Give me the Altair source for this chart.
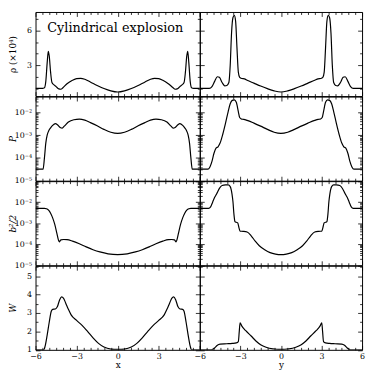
import altair as alt
import pandas as pd

# ---------------- data ----------------
rho_x_c = [-6, -5.5, -5.35, -5.25, -5.15, -5.07, -5.0, -4.9, -4.8, -4.65, -4.5, -4.3, -4.15, -4.0,
           -3.7, -3.3, -3.0, -2.7, -2.4, -2.0, -1.5, -1.0, -0.5, 0, 0.5, 1.0, 1.5, 2.0, 2.4, 2.7,
           3.0, 3.3, 3.7, 4.05, 4.2, 4.35, 4.55, 4.7, 4.85, 4.95, 5.05, 5.12, 5.2, 5.3, 5.4, 5.55, 6]
rho_x_v = [1.0, 1.0, 1.05, 1.6, 3.2, 4.2, 3.8, 2.4, 1.5, 1.3, 1.15, 0.95, 0.92, 1.05,
           1.4, 1.7, 1.84, 1.86, 1.78, 1.55, 1.25, 0.98, 0.78, 0.68, 0.78, 0.98, 1.25, 1.55, 1.78, 1.86,
           1.84, 1.7, 1.4, 1.05, 0.92, 0.95, 1.15, 1.3, 1.5, 2.4, 3.8, 4.2, 3.2, 1.6, 1.05, 1.0, 1.0]

rho_y_c = [-6, -5.3, -5.1, -4.9, -4.7, -4.55, -4.35, -4.15, -4.0, -3.85, -3.75, -3.65, -3.55, -3.45,
           -3.35, -3.25, -3.15, -3.05, -2.9, -2.7, -2.5, -2.0, -1.5, -1.0, -0.5, 0,
           0.5, 1.0, 1.5, 2.0, 2.5, 2.75, 2.95, 3.1, 3.2, 3.3, 3.4, 3.5, 3.6, 3.7, 3.8, 3.9,
           4.05, 4.2, 4.4, 4.6, 4.75, 4.95, 5.15, 5.35, 6]
rho_y_v = [1.0, 1.0, 1.15, 1.6, 2.0, 1.95, 1.5, 1.22, 1.25, 1.5, 3.0, 5.8, 7.1, 7.3,
           6.8, 4.5, 2.4, 1.95, 1.85, 1.82, 1.7, 1.45, 1.2, 0.97, 0.78, 0.68,
           0.78, 0.97, 1.2, 1.45, 1.7, 1.82, 1.85, 1.95, 2.4, 4.5, 6.8, 7.3, 7.1, 5.8, 3.0, 1.5,
           1.25, 1.22, 1.5, 1.95, 2.0, 1.6, 1.15, 1.0, 1.0]

p_x_c = [-6, -5.45, -5.35, -5.25, -5.15, -5.05, -4.9, -4.75, -4.55, -4.4, -4.2, -4.05, -3.9, -3.6,
         -3.2, -2.8, -2.4, -2.0, -1.5, -1.0, -0.5, 0, 0.5, 1.0, 1.5, 2.0, 2.4, 2.8, 3.2, 3.6,
         3.9, 4.05, 4.2, 4.4, 4.55, 4.75, 4.9, 5.05, 5.15, 5.25, 5.35, 5.45, 6]
p_x_v = [3.2e-5, 3.2e-5, 1.0e-4, 4.5e-4, 1.0e-3, 1.5e-3, 2.1e-3, 2.7e-3, 3.2e-3, 2.9e-3, 2.2e-3, 2.05e-3, 2.5e-3, 3.8e-3,
         4.8e-3, 5.1e-3, 4.6e-3, 3.6e-3, 2.6e-3, 1.8e-3, 1.35e-3, 1.2e-3, 1.35e-3, 1.8e-3, 2.6e-3, 3.6e-3, 4.6e-3, 5.1e-3, 4.8e-3, 3.8e-3,
         2.5e-3, 2.05e-3, 2.2e-3, 2.9e-3, 3.2e-3, 2.7e-3, 2.1e-3, 1.5e-3, 1.0e-3, 4.5e-4, 1.0e-4, 3.2e-5, 3.2e-5]

p_y_c = [-6, -5.4, -5.25, -5.1, -4.95, -4.8, -4.65, -4.5, -4.3, -4.1, -3.9, -3.75, -3.6, -3.45,
         -3.3, -3.15, -3.05, -2.9, -2.75, -2.5, -2.0, -1.5, -1.0, -0.5, 0,
         0.5, 1.0, 1.5, 2.0, 2.5, 2.75, 2.9, 3.05, 3.15, 3.3, 3.45, 3.6, 3.75, 3.9, 4.1, 4.3,
         4.5, 4.65, 4.8, 4.95, 5.1, 5.25, 5.4, 6]
p_y_v = [3.2e-5, 3.2e-5, 4e-5, 7e-5, 1.6e-4, 2.7e-4, 3.1e-4, 4.5e-4, 1.1e-3, 3.3e-3, 1.1e-2, 2.4e-2, 3.4e-2, 3.6e-2,
         2.8e-2, 1.1e-2, 6e-3, 5.1e-3, 5e-3, 4.5e-3, 3.4e-3, 2.5e-3, 1.8e-3, 1.35e-3, 1.2e-3,
         1.35e-3, 1.8e-3, 2.5e-3, 3.4e-3, 4.5e-3, 5e-3, 5.1e-3, 6e-3, 1.1e-2, 2.8e-2, 3.6e-2, 3.4e-2, 2.4e-2, 1.1e-2, 3.3e-3, 1.1e-3,
         4.5e-4, 3.1e-4, 2.7e-4, 1.6e-4, 7e-5, 4e-5, 3.2e-5, 3.2e-5]

b_x_c = [-6, -5.35, -5.2, -5.05, -4.9, -4.75, -4.6, -4.45, -4.33, -4.27, -4.15, -3.95, -3.7, -3.3,
         -2.8, -2.3, -1.8, -1.3, -0.7, 0, 0.7, 1.3, 1.8, 2.3, 2.8, 3.3, 3.7, 3.95,
         4.15, 4.27, 4.33, 4.45, 4.6, 4.75, 4.9, 5.05, 5.2, 5.35, 6]
b_x_v = [5.1e-3, 5.1e-3, 4.9e-3, 4.2e-3, 3.0e-3, 1.8e-3, 9e-4, 3.5e-4, 1.6e-4, 1.3e-4, 1.6e-4, 1.68e-4, 1.65e-4, 1.4e-4,
         1.05e-4, 7.5e-5, 5.5e-5, 4.3e-5, 3.5e-5, 3.2e-5, 3.5e-5, 4.3e-5, 5.5e-5, 7.5e-5, 1.05e-4, 1.4e-4, 1.65e-4, 1.68e-4,
         1.6e-4, 1.3e-4, 1.6e-4, 3.5e-4, 9e-4, 1.8e-3, 3.0e-3, 4.2e-3, 4.9e-3, 5.1e-3, 5.1e-3]

b_y_c = [-6, -5.35, -5.2, -5.05, -4.9, -4.75, -4.55, -4.35, -4.1, -3.9, -3.75, -3.62, -3.55, -3.47,
         -3.4, -3.3, -3.2, -3.1, -3.02, -2.8, -2.5, -2.2, -1.9, -1.6, -1.2, -0.8, -0.4, 0,
         0.4, 0.8, 1.2, 1.6, 1.9, 2.2, 2.5, 2.8, 3.02, 3.1, 3.2, 3.3, 3.4, 3.47, 3.55, 3.62,
         3.75, 3.9, 4.1, 4.35, 4.55, 4.75, 4.9, 5.05, 5.2, 5.35, 6]
b_y_v = [5.1e-3, 5.1e-3, 6e-3, 1e-2, 1.7e-2, 2.5e-2, 4.5e-2, 6.2e-2, 6.6e-2, 6.6e-2, 5.5e-2, 2.5e-2, 1.1e-2, 2.5e-3,
         1.2e-3, 1.1e-3, 1.05e-3, 6e-4, 4.2e-4, 4.1e-4, 3.8e-4, 2.5e-4, 1.4e-4, 8.5e-5, 5.5e-5, 4e-5, 3.4e-5, 3.2e-5,
         3.4e-5, 4e-5, 5.5e-5, 8.5e-5, 1.4e-4, 2.5e-4, 3.8e-4, 4.1e-4, 4.2e-4, 6e-4, 1.05e-3, 1.1e-3, 1.2e-3, 2.5e-3, 1.1e-2, 2.5e-2,
         5.5e-2, 6.6e-2, 6.6e-2, 6.2e-2, 4.5e-2, 2.5e-2, 1.7e-2, 1e-2, 6e-3, 5.1e-3, 5.1e-3]

w_x_c = [-6, -5.4, -5.3, -5.15, -5.0, -4.85, -4.75, -4.55, -4.4, -4.25, -4.1, -3.95, -3.8, -3.6,
         -3.4, -3.0, -2.6, -2.2, -1.8, -1.4, -1.0, -0.5, 0, 0.5, 1.0, 1.4, 1.8, 2.2, 2.6, 3.0,
         3.4, 3.6, 3.8, 3.95, 4.1, 4.25, 4.4, 4.55, 4.75, 4.85, 5.0, 5.15, 5.3, 5.4, 6]
w_x_v = [1.0, 1.0, 1.2, 1.8, 2.5, 3.1, 3.2, 3.22, 3.35, 3.7, 3.88, 3.8, 3.55, 3.2,
         2.9, 2.6, 2.33, 2.0, 1.65, 1.35, 1.15, 1.04, 1.02, 1.04, 1.15, 1.35, 1.65, 2.0, 2.33, 2.6,
         2.9, 3.2, 3.55, 3.8, 3.88, 3.7, 3.35, 3.22, 3.2, 3.1, 2.5, 1.8, 1.2, 1.0, 1.0]

w_y_c = [-6, -5.15, -4.9, -4.7, -4.5, -4.0, -3.6, -3.3, -3.15, -3.08, -3.02, -2.9, -2.6, -2.2,
         -1.85, -1.5, -1.1, -0.6, 0, 0.6, 1.1, 1.5, 1.85, 2.2, 2.6, 2.9, 3.02, 3.08, 3.15,
         3.3, 3.6, 4.0, 4.5, 4.7, 4.9, 5.15, 6]
w_y_v = [1.0, 1.0, 1.1, 1.25, 1.31, 1.33, 1.35, 1.38, 1.45, 2.0, 2.47, 2.3, 2.04, 1.75,
         1.48, 1.28, 1.14, 1.05, 1.02, 1.05, 1.14, 1.28, 1.48, 1.75, 2.04, 2.3, 2.47, 2.0, 1.45,
         1.38, 1.35, 1.33, 1.31, 1.25, 1.1, 1.0, 1.0]

# ---------------- tick positions ----------------
x_major = [-6, -3, 0, 3, 6]
x_minor = [-5.5, -5, -4.5, -4, -3.5, -2.5, -2, -1.5, -1, -0.5, 0.5, 1, 1.5, 2, 2.5, 3.5, 4, 4.5, 5, 5.5]
rho_major = [3, 6]
rho_minor = [1, 2, 4, 5, 7]
p_major = [1e-5, 1e-4, 1e-3, 1e-2]
p_minor = [2e-5, 3e-5, 4e-5, 5e-5, 6e-5, 7e-5, 8e-5, 9e-5,
           2e-4, 3e-4, 4e-4, 5e-4, 6e-4, 7e-4, 8e-4, 9e-4,
           2e-3, 3e-3, 4e-3, 5e-3, 6e-3, 7e-3, 8e-3, 9e-3,
           2e-2, 3e-2, 4e-2, 5e-2]
b_major = [1e-5, 1e-4, 1e-3, 1e-2, 1e-1]
b_minor = p_minor + [6e-2, 7e-2, 8e-2, 9e-2]
w_major = [1, 2, 3, 4, 5]
w_minor = [1.5, 2.5, 3.5, 4.5, 5.5]

LOG_EXPR = ("datum.value < 2e-5 ? '10\u207b\u2075' : datum.value < 2e-4 ? '10\u207b\u2074' : "
            "datum.value < 2e-3 ? '10\u207b\u00b3' : datum.value < 2e-2 ? '10\u207b\u00b2' : ''")

SERIF = "DejaVu Serif"
MAJ = 4.5
MIN = 2.5
ROW_H = 85.5
WIDTHS = [167, 165]

rows = [
    dict(type="linear", domain=[0.33, 7.6], major=rho_major, minor=rho_minor,
         title="\u03c1 (\u00d710\u2074)", style="normal", expr=None),
    dict(type="log", domain=[1e-5, 0.05], major=p_major, minor=p_minor,
         title="P", style="italic", expr=LOG_EXPR),
    dict(type="log", domain=[1e-5, 0.1], major=b_major, minor=b_minor,
         title="b\u00b2/2", style="italic", expr=LOG_EXPR),
    dict(type="linear", domain=[1, 5.57], major=w_major, minor=w_minor,
         title="W", style="italic", expr=None),
]
series = [
    [(rho_x_c, rho_x_v), (rho_y_c, rho_y_v)],
    [(p_x_c, p_x_v), (p_y_c, p_y_v)],
    [(b_x_c, b_x_v), (b_y_c, b_y_v)],
    [(w_x_c, w_x_v), (w_y_c, w_y_v)],
]
col_titles = ["x", "y"]


def axis(orient, values, size, labels, title=None, **extra):
    kw = dict(orient=orient, values=values, tickSize=size, offset=-size, domain=False,
              grid=False, labels=labels, ticks=True, tickColor="black", tickWidth=0.8,
              title=title)
    kw.update(extra)
    return alt.Axis(**kw)


def panel(c, v, row, left, bottom, xtitle, width):
    df = pd.DataFrame({"c": c, "v": v})
    xs = alt.Scale(domain=[-6, 6], nice=False)
    ys = alt.Scale(type=row["type"], domain=row["domain"], nice=False)

    xextra = {}
    if bottom:
        xextra = dict(labelFlush=False, labelPadding=3, titlePadding=0, format="d")
        if left:
            xextra["labelExpr"] = "datum.value == 6 ? '' : datum.label"
    xa1 = axis("bottom", x_major, MAJ, bottom, xtitle if bottom else None, **xextra)

    yextra = {}
    if left:
        yextra = dict(labelPadding=4, labelOverlap=False, titleX=-27.5,
                      titleBaseline="middle", titleFontStyle=row["style"])
        if row["expr"]:
            yextra["labelExpr"] = row["expr"]
    ya1 = axis("left", row["major"], MAJ, left, row["title"] if left else None, **yextra)

    base = alt.Chart(df)
    main = base.mark_line(color="black", strokeWidth=1.2, interpolate="monotone", clip=True).encode(
        x=alt.X("c:Q", scale=xs, axis=xa1), y=alt.Y("v:Q", scale=ys, axis=ya1))

    def ghost(xa, ya):
        return base.mark_line(strokeOpacity=0, clip=True).encode(
            x=alt.X("c:Q", scale=xs, axis=xa), y=alt.Y("v:Q", scale=ys, axis=ya))

    l2 = ghost(axis("bottom", x_minor, MIN, False), axis("left", row["minor"], MIN, False))
    l3 = ghost(axis("top", x_major, MAJ, False), axis("right", row["major"], MAJ, False))
    l4 = ghost(axis("top", x_minor, MIN, False), axis("right", row["minor"], MIN, False))
    return alt.layer(main, l2, l3, l4).resolve_axis(x="independent", y="independent").properties(
        width=width, height=ROW_H)


panels = []
for r, row in enumerate(rows):
    for k in range(2):
        c, v = series[r][k]
        p = panel(c, v, row, k == 0, r == 3, col_titles[k], WIDTHS[k])
        if r == 0 and k == 0:
            p = p.properties(title=alt.TitleParams(
                "Cylindrical explosion", anchor="start", orient="top", frame="group", offset=0,
                dx=12, dy=34, baseline="alphabetic", font=SERIF, fontSize=13,
                fontWeight="normal", color="black"))
        panels.append(p)

chart = alt.concat(*panels, columns=2, spacing=0, bounds="flush").properties(
    padding=0
).configure_view(
    stroke="black", strokeWidth=1
).configure_axis(
    labelFont=SERIF, labelFontSize=8, labelColor="black",
    titleFont=SERIF, titleFontSize=9, titleFontWeight="normal", titleColor="black"
)

chart.save("out.html", embed_options={"renderer": "svg", "actions": False})
